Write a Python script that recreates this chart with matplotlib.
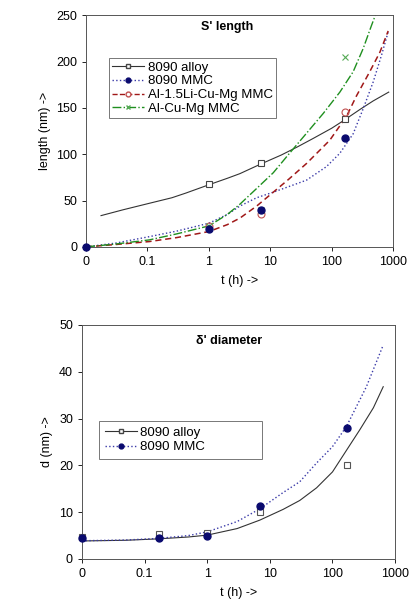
import matplotlib
matplotlib.use("Agg")
import matplotlib.pyplot as plt

plt.rcParams['font.family'] = ['Liberation Sans', 'DejaVu Sans']
plt.rcParams['font.size'] = 9

# ---- top panel: S' length ----
s_alloy_t = [1, 7, 168]
s_alloy_v = [68, 90, 138]
s_mmc_t = [0.01, 1, 7, 168]
s_mmc_v = [0, 19, 40, 117]
s_li_t = [1, 7, 168]
s_li_v = [23, 35, 145]
s_cu_t = [1, 7, 168]
s_cu_v = [22, 40, 205]

# trend lines
s_alloy_fit_t = [0.0175, 0.04, 0.107, 0.25, 0.42, 1, 2, 3.2, 6.8, 15, 27, 50, 100, 154, 300, 475, 850]
s_alloy_fit_v = [33.7, 40, 47, 53, 58, 67, 74, 79, 89, 99, 107.5, 117, 128, 136, 149, 157.5, 167]
s_mmc_fit_t = [0.01, 0.03, 0.107, 0.3, 1, 2, 3.2, 6, 11.2, 20, 39, 82, 136, 224, 326, 475, 650, 833]
s_mmc_fit_v = [0, 4, 11, 17, 25.5, 35, 44, 53, 59, 65, 72, 86.5, 101, 122, 149, 178, 207, 232]
s_li_fit_t = [0.01, 0.03, 0.107, 0.3, 1, 2, 3.2, 6, 11.2, 20, 39, 93, 175, 254, 417, 610, 833]
s_li_fit_v = [0, 2.5, 5.7, 10, 16.5, 24, 31, 44, 59, 73, 90, 115, 141, 163, 189, 210, 233]
s_cu_fit_t = [0.01, 0.03, 0.107, 0.3, 1, 2, 3.2, 6, 11.2, 20, 34, 73, 136, 224, 326, 446, 536]
s_cu_fit_v = [0, 3, 7.5, 14, 22.6, 35, 46, 63, 80, 100, 118, 144, 167, 189, 214, 239, 253]

# ---- bottom panel: delta' diameter ----
d_t = [0.01, 0.167, 1, 7, 168]
d_alloy_v = [4.6, 5.3, 5.5, 10.0, 20.1]
d_mmc_v = [4.5, 4.5, 4.9, 11.4, 27.9]

d_alloy_fit_t = [0.01, 0.05, 0.166, 0.5, 1, 3, 6.9, 16.3, 30, 55.7, 100, 167, 273, 450, 646]
d_alloy_fit_v = [3.85, 4.0, 4.3, 4.7, 5.1, 6.5, 8.3, 10.6, 12.5, 15.2, 18.6, 23.2, 27.6, 32.3, 36.8]
d_mmc_fit_t = [0.01, 0.05, 0.166, 0.5, 1, 3, 6.9, 16.3, 30, 55.7, 100, 167, 348, 646]
d_mmc_fit_v = [3.9, 4.05, 4.4, 5.0, 5.8, 8.0, 10.7, 14.2, 16.5, 20.5, 24.0, 28.3, 36.8, 45.7]

xticks = [0.01, 0.1, 1, 10, 100, 1000]
xticklabels = ['0', '0.1', '1', '10', '100', '1000']

c_alloy = '#333333'
c_mmc = '#3a3aa8'
c_li = '#a01818'
c_cu = '#1f8f1f'


def style_axes(ax, ymax, ystep, ylabel):
    ax.set_xscale('log')
    ax.set_xlim(0.01, 1000)
    ax.set_xticks(xticks)
    ax.set_xticklabels(xticklabels)
    ax.minorticks_off()
    ax.set_ylim(0, ymax)
    ax.set_yticks(range(0, ymax + 1, ystep))
    ax.set_xlabel('t (h) ->', labelpad=5, fontsize=9)
    ax.set_ylabel(ylabel, fontsize=9)
    ax.tick_params(direction='out', length=3, width=0.6, labelsize=9)
    for sp in ax.spines.values():
        sp.set_linewidth(0.7)
        sp.set_color('#555555')


fig = plt.figure(figsize=(4.12, 6.08), dpi=100)

ax1 = fig.add_axes([0.209, 0.594, 0.745, 0.381])
ax1.plot(s_alloy_fit_t, s_alloy_fit_v, '-', color=c_alloy, lw=0.8)
ax1.plot(s_mmc_fit_t, s_mmc_fit_v, ':', color=c_mmc, lw=1.0)
ax1.plot(s_li_fit_t, s_li_fit_v, '--', color=c_li, lw=1.1, dashes=(4, 2.5))
ax1.plot(s_cu_fit_t, s_cu_fit_v, '-.', color=c_cu, lw=1.0)
ax1.plot(s_alloy_t, s_alloy_v, 's', mfc='white', mec='#444444', ms=5, mew=0.8, clip_on=False)
ax1.plot(s_li_t, s_li_v, 'o', mfc='none', mec='#c05050', ms=5, mew=0.8, clip_on=False)
ax1.plot(s_cu_t, s_cu_v, 'x', color='#55aa55', ms=5, mew=0.8, clip_on=False)
ax1.plot(s_mmc_t, s_mmc_v, 'o', color='#0a0a6e', ms=5, clip_on=False, zorder=5)

# legend proxies combine line and marker styles
h1, = ax1.plot([], [], '-', color=c_alloy, lw=0.8, marker='s', mfc='white', mec='#444444', ms=3.5)
h2, = ax1.plot([], [], ':', color=c_mmc, lw=1.0, marker='o', mfc='#0a0a6e', mec='#0a0a6e', ms=3.5)
h3, = ax1.plot([], [], '--', color=c_li, lw=1.0, marker='o', mfc='white', mec='#c05050', ms=3.5)
h4, = ax1.plot([], [], '-.', color=c_cu, lw=1.0, marker='x', mec='#55aa55', ms=3.5)
leg = ax1.legend([h1, h2, h3, h4], ['8090 alloy', '8090 MMC', 'Al-1.5Li-Cu-Mg MMC', 'Al-Cu-Mg MMC'],
                 loc='upper left', bbox_to_anchor=(0.075, 0.815), fontsize=9.5, frameon=True,
                 fancybox=False, edgecolor='#555555', handlelength=2.4, borderpad=0.25,
                 labelspacing=0.12, handletextpad=0.3, borderaxespad=0)
leg.get_frame().set_linewidth(0.7)
ax1.text(0.46, 0.95, "S' length", transform=ax1.transAxes, ha='center', va='center',
         fontsize=9, fontweight='bold')
style_axes(ax1, 250, 50, 'length (nm) ->')

ax2 = fig.add_axes([0.199, 0.0806, 0.760, 0.385])
ax2.plot(d_alloy_fit_t, d_alloy_fit_v, '-', color=c_alloy, lw=0.8)
ax2.plot(d_mmc_fit_t, d_mmc_fit_v, ':', color=c_mmc, lw=1.0)
ax2.plot(d_t, d_alloy_v, 's', mfc='white', mec='#555555', ms=5, mew=0.8, clip_on=False)
ax2.plot(d_t, d_mmc_v, 'o', color='#0a0a6e', ms=5, clip_on=False, zorder=5)
g1, = ax2.plot([], [], '-', color=c_alloy, lw=0.8, marker='s', mfc='white', mec='#444444', ms=3.5)
g2, = ax2.plot([], [], ':', color=c_mmc, lw=1.0, marker='o', mfc='#0a0a6e', mec='#0a0a6e', ms=3.5)
leg2 = ax2.legend([g1, g2], ['8090 alloy', '8090 MMC'],
                  loc='upper left', bbox_to_anchor=(0.054, 0.0, 0.52, 0.59), mode='expand',
                  fontsize=9.5, frameon=True,
                  fancybox=False, edgecolor='#555555', handlelength=2.4, borderpad=0.45,
                  labelspacing=0.15, handletextpad=0.3, borderaxespad=0)
leg2.get_frame().set_linewidth(0.7)
ax2.text(0.47, 0.93, "δ' diameter", transform=ax2.transAxes, ha='center', va='center',
         fontsize=9, fontweight='bold')
style_axes(ax2, 50, 10, 'd (nm) ->')

fig.savefig('out.png', dpi=100)
